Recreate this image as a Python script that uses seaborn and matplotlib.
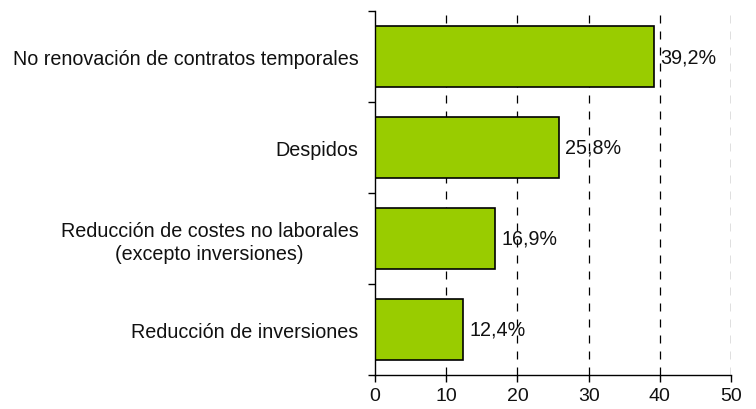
import seaborn as sns
import matplotlib.pyplot as plt
import pandas as pd

categorias = ['No renovación de contratos temporales',
              'Despidos',
              'Reducción de costes no laborales\n(excepto inversiones)',
              'Reducción de inversiones']
valores = [39.2, 25.8, 16.9, 12.4]
etiquetas = ['39,2%', '25,8%', '16,9%', '12,4%']
x_ticks = [0, 10, 20, 30, 40, 50]

df = pd.DataFrame({'categoria': categorias, 'valor': valores})

sns.set_theme(style='white')
plt.rcParams['font.family'] = ['Liberation Sans', 'DejaVu Sans']

fig = plt.figure(figsize=(7.56, 4.10), dpi=100)
ax = fig.add_axes([375 / 756, 1 - 376 / 410, 356 / 756, 364 / 410])

sns.barplot(data=df, x='valor', y='categoria', orient='h', color='#99CC00',
            edgecolor='black', linewidth=1.2, width=0.67, saturation=1, ax=ax)

# Etiquetas al final de cada barra
for p, txt in zip(ax.patches, etiquetas):
    ax.text(p.get_width() + 0.9, p.get_y() + p.get_height() / 2, txt,
            va='center', ha='left', fontsize=14.2, color='#111111')

ax.set_xlim(0, 50)
ax.set_ylim(3.5, -0.5)
ax.set_xticks(x_ticks)
ax.set_xticklabels([str(t) for t in x_ticks], fontsize=14, color='#111111')
ax.set_yticks([0, 1, 2, 3])
ax.set_yticklabels(categorias, fontsize=14.2, ha='right', multialignment='center',
                   linespacing=1.25, color='#111111')
ax.set_yticks([-0.5, 0.5, 1.5, 2.5, 3.5], minor=True)
ax.tick_params(axis='y', which='major', length=0, pad=12)
ax.tick_params(axis='y', which='minor', length=5, width=1, color='black', direction='out', left=True)
ax.tick_params(axis='x', length=5, width=1, color='black', direction='out', bottom=True, pad=4)
ax.set_xlabel('')
ax.set_ylabel('')

for x in x_ticks[1:]:
    ax.axvline(x, color='black', linestyle=(0, (6.4, 6.4)), linewidth=0.9, zorder=0)

for s in ['top', 'right']:
    ax.spines[s].set_visible(False)
for s in ['left', 'bottom']:
    ax.spines[s].set_color('black')
    ax.spines[s].set_linewidth(1)

fig.savefig('out.png', dpi=100)
